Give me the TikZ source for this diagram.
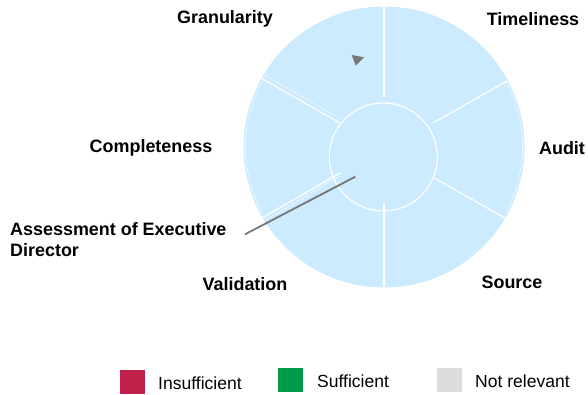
\documentclass[tikz,border=0pt]{standalone}
\usepackage{fontspec}
\setmainfont{Liberation Sans}
\definecolor{wedge}{HTML}{CCEBFE}
\definecolor{insuf}{HTML}{C0204A}
\definecolor{suf}{HTML}{009B48}
\definecolor{notrel}{HTML}{DCDCDC}
\definecolor{pointer}{HTML}{777777}
\tikzset{
  lbl/.style={font=\fontsize{18}{21}\selectfont\bfseries, inner sep=0pt},
  legtxt/.style={font=\fontsize{17.6}{20}\selectfont, inner sep=0pt, anchor=west},
  sep/.style={draw=white, line width=1.2bp},
  thinsep/.style={draw=white, line width=0.6bp, draw opacity=0.7},
  legbox/.style={inner sep=0pt, minimum width=25bp, minimum height=24bp}
}
\begin{document}
\begin{tikzpicture}[x=1bp,y=-1bp]
\useasboundingbox (0,0) rectangle (588,394);
% disc
\fill[wedge] (384,147) circle[radius=140.5bp];
% faint edge lines on the side wedges
\draw[thinsep] (384,147) ++(152:138.5bp) arc[start angle=152, end angle=208, radius=138.5bp];
\draw[thinsep] (384,147) ++(28:138.5bp) arc[start angle=28, end angle=-28, radius=138.5bp];
% radial separators
\coordinate (t1) at (384,6);   \coordinate (t2) at (384,97);
\coordinate (b1) at (384,203); \coordinate (b2) at (384,287);
\coordinate (ur1) at (433,123); \coordinate (ur2) at (507,81);
\coordinate (lr1) at (434,178); \coordinate (lr2) at (505,218);
\coordinate (ul1) at (340,123); \coordinate (ul2) at (261,78);
\coordinate (ll1) at (340,173); \coordinate (ll2) at (262,218);
\draw[sep] (t1) -- (t2);
\draw[sep] (b1) -- (b2);
\draw[sep] (ur1) -- (ur2);
\draw[sep] (lr1) -- (lr2);
\draw[sep] (ul1) -- (ul2);
\draw[thinsep] ([yshift=4bp]ul1) -- ([yshift=4bp,xshift=2bp]ul2);
\draw[sep] (ll1) -- (ll2);
\draw[thinsep] ([yshift=-3bp]ll1) -- ([yshift=-3bp,xshift=2bp]ll2);
% inner circle
\draw[sep] (383.3,157) circle[radius=54bp];
% pointer
\fill[pointer] (351.7,55) -- (364,57.3) -- (355.7,65.7) -- cycle;
\coordinate (p1) at (355.3,176.7);
\coordinate (p2) at (245,234.3);
\draw[pointer, line width=1.8bp] (p1) -- (p2);
% labels
\node[lbl] (gran) at (225,19) {Granularity};
\node[lbl] (time) at (533,19) {Timeliness};
\node[lbl] (comp) at (151,148) {Completeness};
\node[lbl] (audit) at (562,148) {Audit};
\node[lbl, anchor=west, align=left, font=\fontsize{18}{21.5}\selectfont\bfseries] (assess) at (10,239.5) {Assessment of Executive\\Director};
\node[lbl] (valid) at (245,284) {Validation};
\node[lbl] (source) at (512,282) {Source};
% legend
\node[legbox, fill=insuf, anchor=north west] (lr) at (120,370) {};
\node[legtxt] (ltr) at (158,383) {Insufficient};
\node[legbox, fill=suf, anchor=north west] (lg) at (278,368) {};
\node[legtxt] (ltg) at (317,381) {Sufficient};
\node[legbox, fill=notrel, anchor=north west] (lgr) at (437,368) {};
\node[legtxt] (ltgr) at (475,381) {Not relevant};
\end{tikzpicture}
\end{document}
